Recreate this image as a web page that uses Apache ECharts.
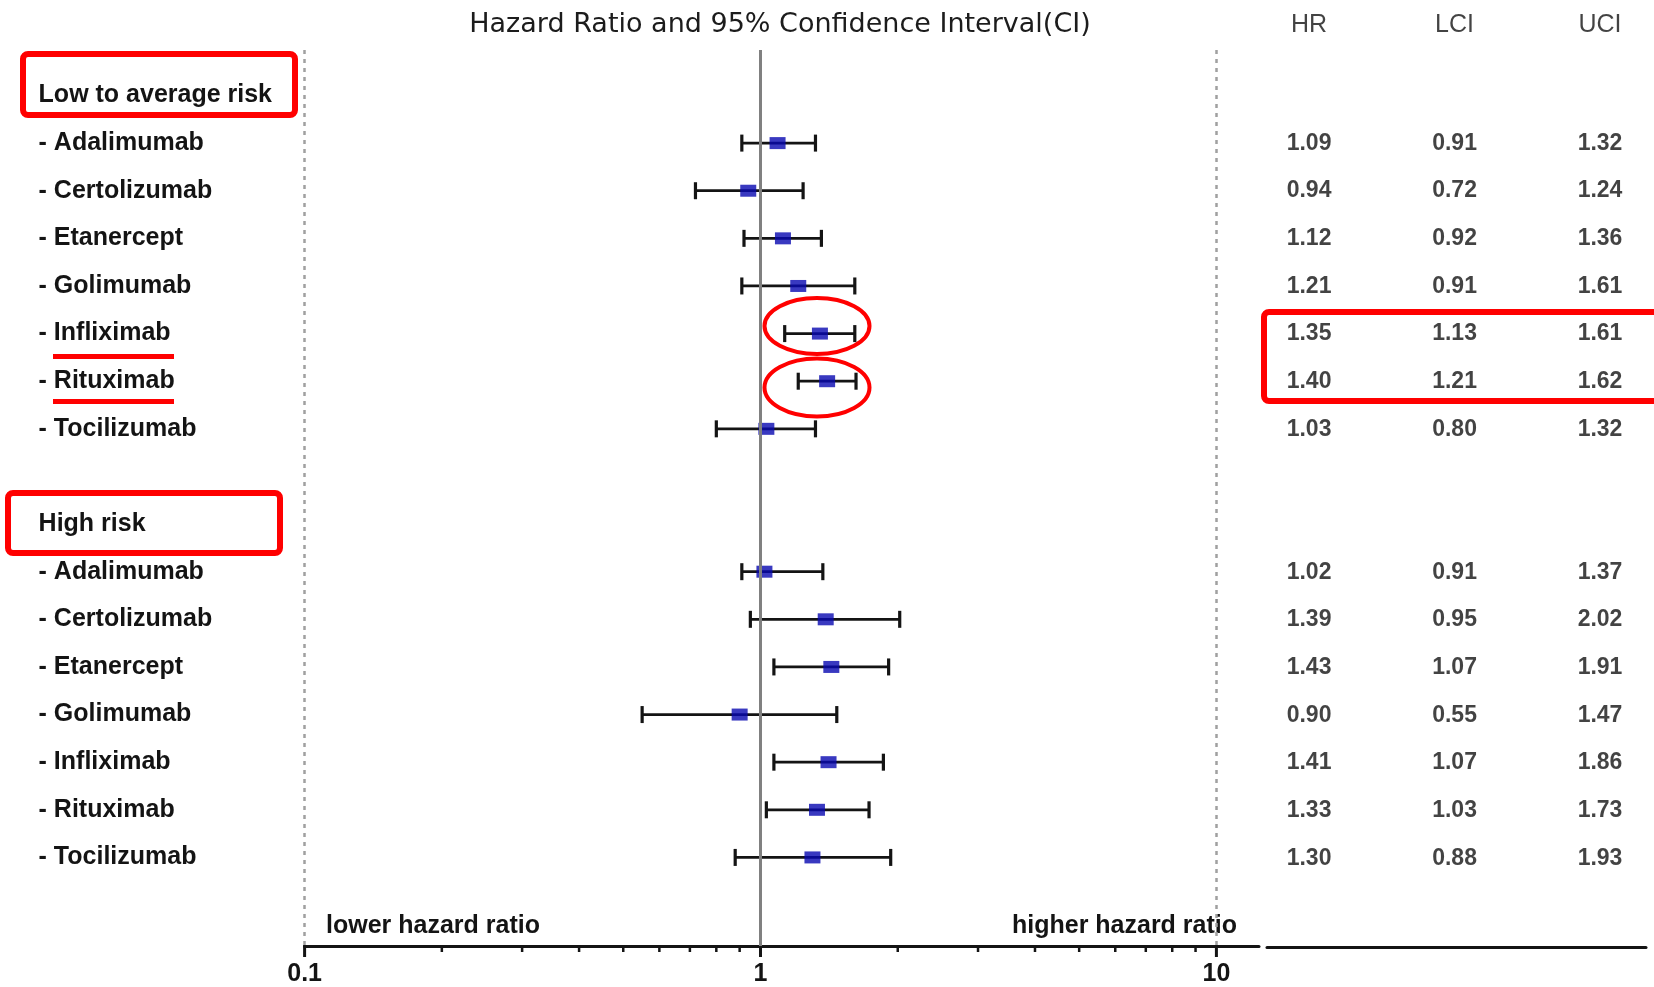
<!DOCTYPE html>
<html><head><meta charset="utf-8">
<script src="https://cdn.jsdelivr.net/npm/echarts@6/dist/echarts.min.js"></script>
<style>html,body{margin:0;padding:0;background:#fff}#c{width:1654px;height:987px}</style>
</head><body><div id="c"></div>
<script>
// ---------- data ----------
const drugs = ['Adalimumab','Certolizumab','Etanercept','Golimumab','Infliximab','Rituximab','Tocilizumab'];
const groupLabels = ['Low to average risk','High risk'];
const hrLow  = [1.09, 0.94, 1.12, 1.21, 1.35, 1.40, 1.03];
const lciLow = [0.91, 0.72, 0.92, 0.91, 1.13, 1.21, 0.80];
const uciLow = [1.32, 1.24, 1.36, 1.61, 1.61, 1.62, 1.32];
const hrHigh  = [1.02, 1.39, 1.43, 0.90, 1.41, 1.33, 1.30];
const lciHigh = [0.91, 0.95, 1.07, 0.55, 1.07, 1.03, 0.88];
const uciHigh = [1.37, 2.02, 1.91, 1.47, 1.86, 1.73, 1.93];
const tableHeaders = ['HR','LCI','UCI'];
const majorTicks = [0.1, 1, 10];
const minorTicks = [0.2,0.3,0.4,0.5,0.6,0.7,0.8,0.9,2,3,4,5,6,7,8,9];
const refLines = [0.1, 1, 10];
const chartTitle = 'Hazard Ratio and 95% Confidence Interval(CI)';
const lowerText = 'lower hazard ratio';
const higherText = 'higher hazard ratio';

// ---------- build rows ----------
const groups = [
  {label: groupLabels[0], hr: hrLow, lci: lciLow, uci: uciLow},
  {label: groupLabels[1], hr: hrHigh, lci: lciHigh, uci: uciHigh}
];
const rowLabels = [];
const forest = [];
let r = 0;
groups.forEach((g, gi) => {
  if (gi > 0) { rowLabels.push(''); r++; }
  rowLabels.push(g.label); r++;
  drugs.forEach((d, i) => {
    rowLabels.push('- ' + d);
    forest.push({row: r, hr: g.hr[i], lci: g.lci[i], uci: g.uci[i]});
    r++;
  });
});
const rowIdx = rowLabels.map((_, i) => i).filter(i => rowLabels[i] !== '');

const Y_MIN = -0.955, Y_MAX = 17.86, HEADER_ROW = -1.47;
const FONT = '"Liberation Sans", Arial, sans-serif';
const INK = '#141414';

const tableData = [];
tableHeaders.forEach((h, c) => tableData.push({
  name: h, value: [c, HEADER_ROW],
  label: {fontWeight: 'normal', fontSize: 25}
}));
forest.forEach(f => {
  [f.hr, f.lci, f.uci].forEach((v, c) => tableData.push({name: v.toFixed(2), value: [c, f.row]}));
});

function isMajor(v) {
  const l = Math.log10(v);
  return Math.abs(l - Math.round(l)) < 1e-6;
}

const chart = echarts.init(document.getElementById('c'), null, {renderer: 'canvas'});
const option = {
  animation: false,
  backgroundColor: '#ffffff',
  textStyle: {fontFamily: FONT},
  grid: [
    {left: 304.6, right: 395, top: 50, bottom: 40},
    {left: 1267, right: 8, top: 50, bottom: 40}
  ],
  xAxis: [
    {
      type: 'log', gridIndex: 0, min: 0.1, max: 12.4, logBase: 10,
      axisLine: {show: true, onZero: false, lineStyle: {color: INK, width: 3}},
      axisTick: {show: false}, minorTick: {show: false}, splitLine: {show: false},
      axisLabel: {
        show: true, margin: 16, color: INK, fontSize: 25, fontWeight: 'bold', fontFamily: FONT,
        formatter: v => isMajor(v) ? String(+(+v).toPrecision(6)) : ''
      }
    },
    {
      type: 'value', gridIndex: 1, min: -0.289, max: 2.316,
      axisLine: {show: true, onZero: false, lineStyle: {color: INK, width: 3}},
      axisTick: {show: false}, axisLabel: {show: false}, splitLine: {show: false}
    }
  ],
  yAxis: [
    {
      type: 'value', gridIndex: 0, inverse: true, min: Y_MIN, max: Y_MAX,
      axisLine: {show: false}, axisTick: {show: false}, splitLine: {show: false},
      axisLabel: {
        show: true, customValues: rowIdx, formatter: v => rowLabels[Math.round(v)] || '',
        align: 'left', margin: 266, color: INK, fontSize: 25, fontWeight: 'bold', fontFamily: FONT
      }
    },
    {type: 'value', gridIndex: 1, inverse: true, min: Y_MIN, max: Y_MAX, show: false}
  ],
  series: [
    {
      name: 'ticks', type: 'custom', xAxisIndex: 0, yAxisIndex: 0, clip: false, silent: true,
      data: majorTicks.map(v => [v, 1]).concat(minorTicks.map(v => [v, 0])),
      renderItem: (params, api) => {
        const p = api.coord([api.value(0), Y_MAX]);
        const major = api.value(1) === 1;
        return {type: 'line', shape: {x1: p[0], y1: p[1] - 1, x2: p[0], y2: p[1] + (major ? 11 : 6)},
          style: {stroke: INK, lineWidth: major ? 3 : 2.5}};
      }
    },
    {
      name: 'CI', type: 'custom', xAxisIndex: 0, yAxisIndex: 0, clip: false, silent: true, z: 3,
      data: forest.map(f => [f.lci, f.uci, f.row]),
      encode: {x: [0, 1], y: 2},
      renderItem: (params, api) => {
        const lo = api.coord([api.value(0), api.value(2)]);
        const hi = api.coord([api.value(1), api.value(2)]);
        const h = 8.5;
        const st = {stroke: INK, lineWidth: 2.8};
        return {type: 'group', children: [
          {type: 'line', shape: {x1: lo[0], y1: lo[1], x2: hi[0], y2: hi[1]}, style: st},
          {type: 'line', shape: {x1: lo[0], y1: lo[1] - h, x2: lo[0], y2: lo[1] + h}, style: {stroke: INK, lineWidth: 3.2}},
          {type: 'line', shape: {x1: hi[0], y1: hi[1] - h, x2: hi[0], y2: hi[1] + h}, style: {stroke: INK, lineWidth: 3.2}}
        ]};
      }
    },
    {
      name: 'HR', type: 'scatter', xAxisIndex: 0, yAxisIndex: 0, z: 4, silent: true,
      symbol: 'rect', symbolSize: [16, 12],
      itemStyle: {color: '#0808b0'},
      data: forest.map(f => [f.hr, f.row]),
      markLine: {
        silent: true, symbol: 'none', label: {show: false}, animation: false,
        data: refLines.map(v => ({
          xAxis: v,
          lineStyle: v === 1
            ? {type: 'solid', color: '#808080', width: 3}
            : {type: [4, 5], color: '#a0a0a0', width: 2.5}
        }))
      }
    },
    {
      name: 'table', type: 'scatter', xAxisIndex: 1, yAxisIndex: 1, clip: false, silent: true,
      symbolSize: 1, itemStyle: {color: 'rgba(0,0,0,0)'},
      label: {show: true, position: 'inside', formatter: '{b}', color: INK, fontSize: 23, fontWeight: 'bold', fontFamily: FONT},
      data: tableData
    }
  ],
  graphic: [
    {type: 'text', x: 780, y: 25, style: {text: chartTitle, fill: '#1c1c1c', font: '27px "DejaVu Sans", sans-serif', align: 'center', verticalAlign: 'middle'}},
    {type: 'text', x: 326, y: 926, style: {text: lowerText, fill: INK, font: 'bold 25px ' + FONT, align: 'left', verticalAlign: 'middle'}},
    {type: 'text', x: 1237, y: 926, style: {text: higherText, fill: INK, font: 'bold 25px ' + FONT, align: 'right', verticalAlign: 'middle'}},
    {type: 'rect', shape: {x: 23, y: 54, width: 272, height: 61, r: 5}, style: {fill: 'rgba(0,0,0,0)', stroke: '#ff0000', lineWidth: 6}},
    {type: 'rect', shape: {x: 8, y: 493, width: 272, height: 60, r: 5}, style: {fill: 'rgba(0,0,0,0)', stroke: '#ff0000', lineWidth: 6}},
    {type: 'rect', shape: {x: 1264, y: 312, width: 420, height: 89, r: 5}, style: {fill: 'rgba(0,0,0,0)', stroke: '#ff0000', lineWidth: 6}},
    {type: 'ellipse', shape: {cx: 817, cy: 326, rx: 52.5, ry: 28}, style: {fill: 'rgba(0,0,0,0)', stroke: '#ff0000', lineWidth: 4}},
    {type: 'ellipse', shape: {cx: 817, cy: 387.5, rx: 52.5, ry: 29}, style: {fill: 'rgba(0,0,0,0)', stroke: '#ff0000', lineWidth: 4}},
    {type: 'rect', shape: {x: 53, y: 354, width: 121, height: 5}, style: {fill: '#ff0000'}},
    {type: 'rect', shape: {x: 53, y: 399, width: 121, height: 5}, style: {fill: '#ff0000'}}
  ]
};
chart.setOption(option);
</script>
</body></html>
